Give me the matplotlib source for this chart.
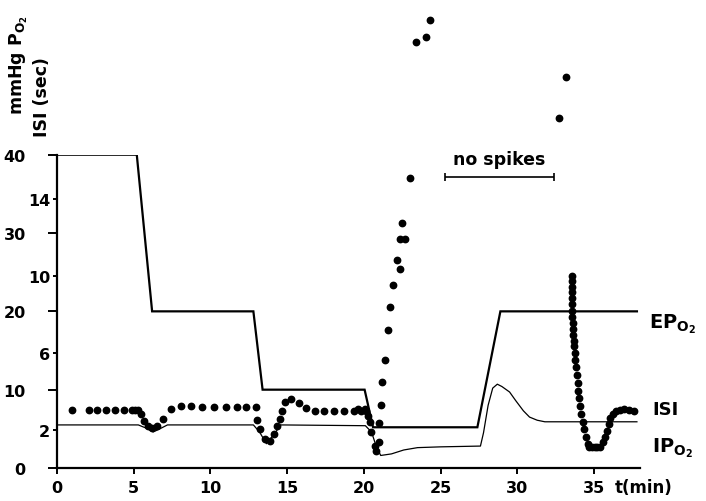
import matplotlib
matplotlib.use("Agg")
import matplotlib.pyplot as plt

plt.rcParams['font.family'] = ['DejaVu Sans']
plt.rcParams['font.weight'] = 'bold'
plt.rcParams['mathtext.fontset'] = 'dejavusans'

# ISI (sec) is drawn on the mmHg scale, 1 sec = ISI_SCALE mmHg
ISI_SCALE = 2.45

# external PO2 (thick step line), mmHg
epo2_t = [0, 5.2, 6.2, 12.8, 13.4, 20.05, 20.6, 27.4, 28.9, 37.8]
epo2_v = [40, 40, 20, 20, 10, 10, 5.2, 5.2, 20, 20]

# internal PO2 (thin line), mmHg
ipo2_t = [0, 5.3, 5.8, 6.27, 6.7, 7.2, 12.8, 13.2, 13.65, 14.1, 14.6, 20.1, 20.5,
          20.8, 21.1, 21.8, 22.6, 23.5, 25.0, 27.6, 27.8, 28.1, 28.4, 28.7, 29.0,
          29.5, 29.9, 30.4, 30.8, 31.3, 31.8, 37.8]
ipo2_v = [5.5, 5.5, 5.1, 4.6, 5.0, 5.5, 5.5, 4.6, 3.1, 4.2, 5.5, 5.4, 4.6,
          2.8, 1.6, 1.8, 2.3, 2.6, 2.7, 2.8, 4.5, 8.0, 10.2, 10.7, 10.4,
          9.7, 8.6, 7.3, 6.5, 6.1, 5.9, 5.9]

# interspike interval dots (min, sec)
isi_t = [0.95, 2.08, 2.63, 3.17, 3.78, 4.36, 4.90, 5.08, 5.25,
         5.45, 5.66, 5.95, 6.16, 6.49, 6.92, 7.46, 8.05, 8.72, 9.48, 10.24, 11.0,
         11.74, 12.35, 12.96,
         13.04, 13.26, 13.54, 13.87, 14.13, 14.34, 14.52, 14.67, 14.84, 15.28,
         15.77, 16.21, 16.80, 17.38, 18.03, 18.68, 19.34, 19.6, 19.84, 20.05, 20.16,
         20.27, 20.38, 20.49, 20.70, 20.81,
         20.96, 21.01, 21.09, 21.20, 21.40, 21.55, 21.68, 21.88, 22.15, 22.35,
         22.33, 22.70, 22.51, 23.03, 23.42, 24.02, 24.28,
         32.75, 33.18,
         33.55, 33.55, 33.55, 33.55, 33.57, 33.57, 33.60, 33.60, 33.62, 33.64,
         33.66, 33.68, 33.72, 33.76, 33.78, 33.83, 33.87, 33.94, 33.98, 34.05,
         34.11, 34.18, 34.26, 34.38, 34.49, 34.59,
         34.70, 34.88, 35.05, 35.22, 35.40,
         35.57, 35.72, 35.85, 35.96, 36.07, 36.22, 36.44, 36.70, 36.98, 37.30, 37.63]
isi_v = [3.02, 3.02, 3.02, 3.02, 3.02, 3.02, 3.02, 3.02, 3.02,
         2.82, 2.47, 2.21, 2.07, 2.21, 2.55, 3.08, 3.22, 3.25, 3.2, 3.2, 3.16,
         3.16, 3.16, 3.16,
         2.52, 2.03, 1.51, 1.42, 1.77, 2.21, 2.55, 2.99, 3.46, 3.6,
         3.39, 3.11, 2.99, 2.99, 2.99, 2.99, 2.99, 3.05, 2.99, 3.05, 2.99,
         2.73, 2.38, 1.86, 1.16, 0.90,
         1.37, 2.35, 3.28, 4.50, 5.63, 7.21, 8.41, 9.54, 10.86, 10.38,
         11.94, 11.94, 12.77, 15.10, 22.19, 22.46, 23.32,
         18.23, 20.37,
         10.03, 9.73, 9.45, 9.16, 8.86, 8.55, 8.20, 7.86, 7.54, 7.25,
         6.93, 6.64, 6.34, 5.99, 5.64, 5.25, 4.85, 4.43, 4.03, 3.63,
         3.25, 2.82, 2.38, 2.03, 1.60, 1.25,
         1.08, 1.08, 1.08, 1.08, 1.10,
         1.34, 1.60, 1.95, 2.29, 2.59, 2.82, 2.96, 3.04, 3.08, 3.04, 2.96]

mmhg_ticks = [0, 10, 20, 30, 40]
isi_ticks = [2, 6, 10, 14]
time_ticks = [0, 5, 10, 15, 20, 25, 30, 35]

nospike_start, nospike_end = 25.3, 32.4

fig = plt.figure(figsize=(7.06, 5.02), dpi=100)
ax = fig.add_axes([57/706, 33/502, 583/706, 313.3/502])

ax.plot(epo2_t, epo2_v, color='black', lw=1.6, solid_joinstyle='miter')
ax.plot(ipo2_t, ipo2_v, color='black', lw=0.9)
ax.plot(isi_t, [v*ISI_SCALE for v in isi_v], 'o', color='black', ms=4.6,
        mec='black', clip_on=False)

# "no spikes" bar
ax.errorbar([(nospike_start+nospike_end)/2], [37.2],
            xerr=[(nospike_end-nospike_start)/2], color='black', lw=1.2,
            capsize=3, capthick=1.2, clip_on=False)
ax.text((nospike_start+nospike_end)/2, 38.3, 'no spikes', ha='center', va='bottom',
        fontsize=12.5)

ax.set_xlim(0, 38)
ax.set_ylim(0, 40)
for s in ['top', 'right']:
    ax.spines[s].set_visible(False)
for s in ['left', 'bottom']:
    ax.spines[s].set_linewidth(1.6)

ax.set_xticks(time_ticks)
ax.set_xticklabels([str(t) for t in time_ticks], fontsize=11.5)
ax.tick_params(axis='x', length=4.5, width=1.4, pad=4)

ax.set_yticks(mmhg_ticks)
ax.set_yticklabels([str(t) for t in mmhg_ticks], fontsize=11.5)
ax.tick_params(axis='y', which='major', length=6.5, width=1.4, pad=16)
ax.set_yticks([v*ISI_SCALE for v in isi_ticks], minor=True)
ax.set_yticklabels([str(t) for t in isi_ticks], minor=True, fontsize=11.5)
ax.tick_params(axis='y', which='minor', length=3, width=1.4, pad=2)

# curve labels at the right
ax.text(38.6, 18.0, r'$\mathbf{EP}_{\mathbf{O}_{\mathbf{2}}}$', fontsize=14,
        va='baseline', clip_on=False)
ax.text(38.8, 6.9, 'ISI', fontsize=13, va='baseline', clip_on=False)
ax.text(38.8, 4.1, r'$\mathbf{IP}_{\mathbf{O}_{\mathbf{2}}}$', fontsize=14,
        va='top', clip_on=False)

fig.text(615/706, 1-488/502, 't(min)', fontsize=12, va='center')
fig.text(19/706, 1-115/502, r'mmHg P$_{\mathbf{O}_{\mathbf{2}}}$', rotation=90,
         ha='center', va='bottom', fontsize=12.5)
fig.text(42/706, 1-137/502, 'ISI (sec)', rotation=90, ha='center', va='bottom',
         fontsize=12.5)

plt.savefig('out.png', dpi=100)
